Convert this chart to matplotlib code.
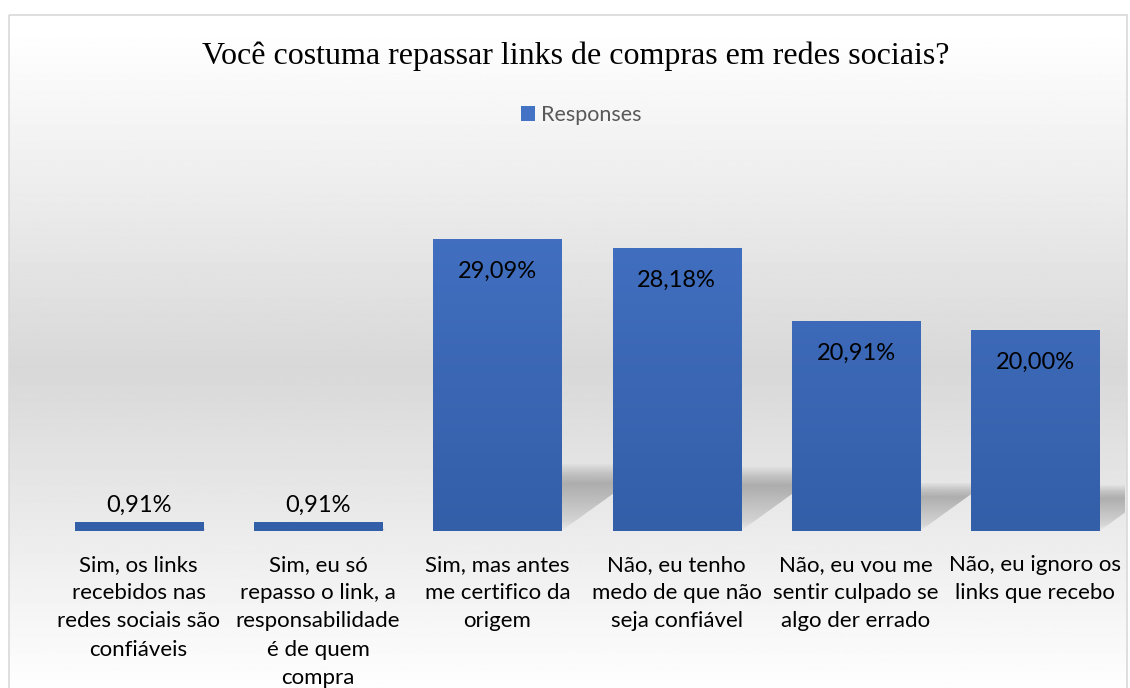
import matplotlib.pyplot as plt
import numpy as np
from matplotlib.patches import Rectangle, Polygon, Patch
from matplotlib.colors import LinearSegmentedColormap

categories = [
    "Sim, os links\nrecebidos nas\nredes sociais são\nconfiáveis",
    "Sim, eu só\nrepasso o link, a\nresponsabilidade\né de quem\ncompra",
    "Sim, mas antes\nme certifico da\norigem",
    "Não, eu tenho\nmedo de que não\nseja confiável",
    "Não, eu vou me\nsentir culpado se\nalgo der errado",
    "Não, eu ignoro os\nlinks que recebo",
]
values = [0.91, 0.91, 29.09, 28.18, 20.91, 20.00]
labels = ["0,91%", "0,91%", "29,09%", "28,18%", "20,91%", "20,00%"]

W, H = 1130, 688
fig = plt.figure(figsize=(W / 100, H / 100), dpi=100)
fig.patch.set_facecolor('white')

# background of the chart area: white -> gray -> white
bg = fig.add_axes([0, 0, 1, 1], zorder=-2)
bg.set_xlim(0, W)
bg.set_ylim(H, 0)
bg.axis('off')
ys = np.arange(0, H + 1)
shade = np.interp(ys, [15, 360, 688], [255, 216, 254]) / 255.0
grad = np.repeat(shade[:, None], 2, axis=1)
bg.imshow(grad, cmap='gray', vmin=0, vmax=1, extent=(9, 1127, H, 15),
          aspect='auto', interpolation='bilinear')
bg.add_patch(Rectangle((9, 15), 1118, 700, fill=False, edgecolor='#d9d9d9', lw=1.2))

ax = fig.add_axes([49 / W, (H - 531) / H, (1125 - 49) / W, (531 - 180) / H])
ax.patch.set_alpha(0)
x = np.arange(len(values))
bars = ax.bar(x, values, width=0.715, color='#4472c4', zorder=3)

# soft perspective shadows behind bars
t = np.linspace(0, 1, 200)
alpha_prof = np.interp(t, [0, 0.15, 0.7, 0.85, 1.0], [0.0, 0.1, 0.25, 0.15, 0.0])
shadow_img = np.zeros((200, 2, 4))
shadow_img[:, :, 3] = alpha_prof[:, None]
for xi, v in zip(x, values):
    hs = 0.23 * v
    off = hs * 0.0774
    xl, xr = xi - 0.3575, xi + 0.3575
    poly = Polygon([(xl, 0), (xr, 0), (xr + off, hs), (xl + off, hs)], closed=True,
                   facecolor='none', edgecolor='none')
    ax.add_patch(poly)
    im = ax.imshow(shadow_img, origin='lower', extent=(xl, xr + off, 0, hs),
                   aspect='auto', interpolation='bilinear', zorder=1)
    im.set_clip_path(poly)

# gradient fill of the bars
cmap = LinearSegmentedColormap.from_list('bar', ['#335ea8', '#4472c4'])
for b in bars:
    b.set_facecolor('none')
    x0 = b.get_x()
    w = b.get_width()
    img = ax.imshow(np.linspace(0, 1, 100)[:, None], cmap=cmap, origin='lower',
                    extent=(x0, x0 + w, 0, 35), aspect='auto', zorder=2)
    img.set_clip_path(b)

for xi, v, lab in zip(x, values, labels):
    ypos = v - 3.2 if v > 5 else v + 1.6
    ax.text(xi, ypos, lab, ha='center', va='center', fontsize=17,
            family='Lato', color='black', zorder=4)

ax.set_xlim(-0.5, 5.5)
ax.set_ylim(0, 35)
ax.set_yticks([])
ax.set_xticks(x)
ax.set_xticklabels(categories, fontsize=16, family='Lato', color='black',
                   linespacing=1.52, va='top')
ax.tick_params(axis='x', length=0, pad=17)
for s in ax.spines.values():
    s.set_visible(False)

fig.text(576 / W, 1 - 56 / H, "Você costuma repassar links de compras em redes sociais?",
         ha='center', va='center', fontsize=23, family='Liberation Serif', color='black')

fig.legend(handles=[Patch(facecolor='#4472c4', edgecolor='none', label='Responses')],
           loc='center', bbox_to_anchor=(581 / W, 1 - 115 / H), frameon=False,
           prop={'family': 'Lato', 'size': 15.5}, labelcolor='#595959',
           handlelength=0.65, handleheight=0.65, handletextpad=0.3)

fig.savefig('out.png', dpi=100)
